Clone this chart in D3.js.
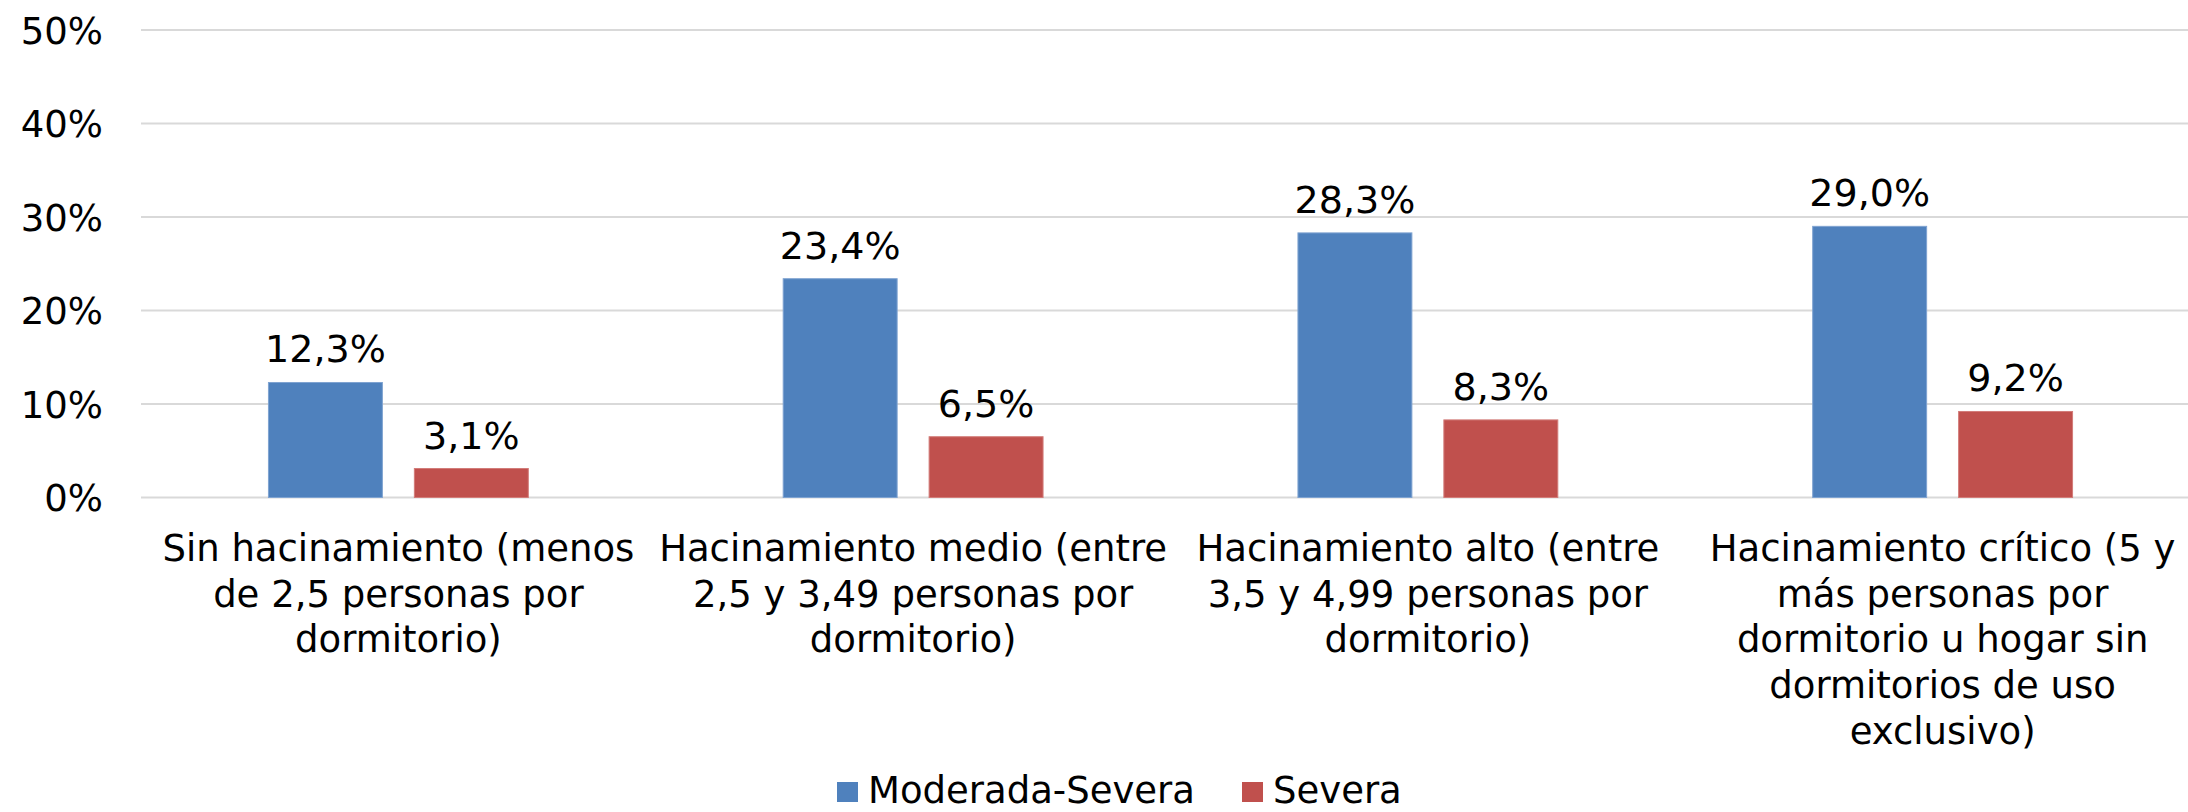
<!DOCTYPE html>
<html>
<head>
<meta charset="utf-8">
<script src="https://cdn.jsdelivr.net/npm/d3@7"></script>
<style>
  html, body { margin: 0; padding: 0; background: #ffffff; }
  svg { display: block; }
  text { font-family: "DejaVu Sans", Verdana, sans-serif; fill: #000000; }
</style>
</head>
<body>
<script>
// Overcrowding categories (each label split into its display lines)
const categories = [
  "Sin hacinamiento",
  "Hacinamiento medio",
  "Hacinamiento alto",
  "Hacinamiento crítico"
];
const categoryLines = [
  ["Sin hacinamiento (menos", "de 2,5 personas por", "dormitorio)"],
  ["Hacinamiento medio (entre", "2,5 y 3,49 personas por", "dormitorio)"],
  ["Hacinamiento alto (entre", "3,5 y 4,99 personas por", "dormitorio)"],
  ["Hacinamiento crítico (5 y", "más personas por", "dormitorio u hogar sin", "dormitorios de uso", "exclusivo)"]
];
const seriesNames = ["Moderada-Severa", "Severa"];
const moderadaSevera = [0.123, 0.234, 0.283, 0.290];
const severa = [0.031, 0.065, 0.083, 0.092];
const seriesColors = ["#4F81BD", "#C0504D"];
const seriesStrokes = ["#7FA3D1", "#D27C79"];
const yTicks = [0, 0.1, 0.2, 0.3, 0.4, 0.5];

const W = 2188, H = 812;
const plotLeft = 141, bandStep = 514.75, plotTop = 30, plotBottom = 497.5;

const svg = d3.select("body").append("svg")
  .attr("width", W).attr("height", H);

const x = d3.scaleBand()
  .domain(categories)
  .range([plotLeft, plotLeft + bandStep * categories.length])
  .paddingInner(0).paddingOuter(0);

const xSeries = d3.scaleBand()
  .domain(seriesNames)
  .range([0, x.bandwidth()])
  .paddingInner(0.2123)
  .paddingOuter(0.87);

const y = d3.scaleLinear().domain([0, 0.5]).range([plotBottom, plotTop]);

const pct = d3.format(".0%");
const labelFmt = v => d3.format(".1f")(v * 100).replace(".", ",") + "%";

// Horizontal gridlines
svg.append("g")
  .selectAll("line")
  .data(yTicks)
  .join("line")
  .attr("x1", plotLeft)
  .attr("x2", W)
  .attr("y1", d => y(d))
  .attr("y2", d => y(d))
  .attr("stroke", "#D9D9D9")
  .attr("stroke-width", 2);

// Y axis labels
const yAxis = svg.append("g")
  .attr("transform", "translate(103,0)")
  .call(d3.axisLeft(y).tickValues(yTicks).tickFormat(pct).tickSize(0).tickPadding(0));
yAxis.select(".domain").remove();
yAxis.selectAll("text")
  .attr("font-size", 37)
  .attr("font-family", "DejaVu Sans, Verdana, sans-serif")
  .attr("fill", "#000")
  .attr("dy", "0.36em");

// Bars
const rows = categories.map((c, i) => ({
  cat: c,
  vals: [
    { s: seriesNames[0], v: moderadaSevera[i], k: 0 },
    { s: seriesNames[1], v: severa[i], k: 1 }
  ]
}));

const groups = svg.append("g")
  .selectAll("g")
  .data(rows)
  .join("g")
  .attr("transform", d => `translate(${x(d.cat)},0)`);

groups.selectAll("rect")
  .data(d => d.vals)
  .join("rect")
  .attr("x", d => xSeries(d.s) + 0.5)
  .attr("y", d => y(d.v))
  .attr("width", xSeries.bandwidth() - 1)
  .attr("height", d => y(0) - y(d.v))
  .attr("fill", d => seriesColors[d.k])
  .attr("stroke", d => seriesStrokes[d.k])
  .attr("stroke-width", 1);

// Value labels above bars
groups.selectAll("text.val")
  .data(d => d.vals)
  .join("text")
  .attr("class", "val")
  .attr("x", d => xSeries(d.s) + xSeries.bandwidth() / 2)
  .attr("y", d => y(d.v) - 20)
  .attr("text-anchor", "middle")
  .attr("font-size", 38)
  .text(d => labelFmt(d.v));

// Category labels
const lineH = 45.7, firstBaseline = 561;
svg.append("g")
  .selectAll("text")
  .data(categories)
  .join("text")
  .attr("text-anchor", "middle")
  .attr("font-size", 37)
  .attr("x", d => x(d) + x.bandwidth() / 2)
  .attr("y", firstBaseline)
  .each(function(d, i) {
    const t = d3.select(this);
    categoryLines[i].forEach((ln, j) => {
      t.append("tspan")
        .attr("x", x(d) + x.bandwidth() / 2)
        .attr("y", firstBaseline + j * lineH)
        .text(ln);
    });
  });

// Legend
const legendItems = [
  { name: seriesNames[0], color: seriesColors[0], x: 837 },
  { name: seriesNames[1], color: seriesColors[1], x: 1242 }
];
const legend = svg.append("g")
  .selectAll("g")
  .data(legendItems)
  .join("g")
  .attr("transform", d => `translate(${d.x},0)`);
legend.append("rect")
  .attr("x", 0).attr("y", 782)
  .attr("width", 21).attr("height", 20)
  .attr("fill", d => d.color);
legend.append("text")
  .attr("x", 31).attr("y", 803)
  .attr("font-size", 37)
  .text(d => d.name);
</script>
</body>
</html>
